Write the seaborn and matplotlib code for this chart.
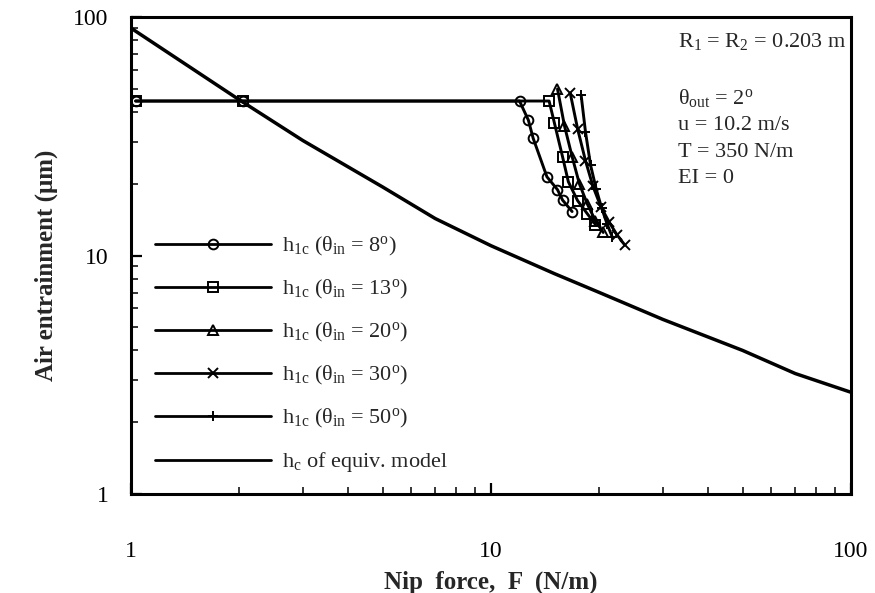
import numpy as np
import pandas as pd
import matplotlib
matplotlib.use("Agg")
import matplotlib.pyplot as plt
import seaborn as sns
from matplotlib.lines import Line2D

sns.set_theme(style="white")
plt.rcParams['font.family'] = ['Liberation Serif', 'DejaVu Serif']
plt.rcParams['mathtext.fontset'] = 'custom'
plt.rcParams['mathtext.rm'] = 'Liberation Serif'
plt.rcParams['mathtext.it'] = 'Liberation Serif:italic'
plt.rcParams['mathtext.bf'] = 'Liberation Serif:bold'

# ---- data ----
F_8 = [1.03, 2.05, 12.0, 12.7, 13.1, 14.3, 15.3, 15.8, 16.8]
h_8 = [44.5, 44.5, 44.5, 37.0, 31.0, 21.4, 18.9, 17.1, 15.3]

F_13 = [1.03, 2.05, 14.5, 15.0, 15.8, 16.4, 17.4, 18.5, 19.5]
h_13 = [44.5, 44.5, 44.5, 36.0, 26.0, 20.4, 17.0, 15.0, 13.5]

F_20 = [15.3, 16.0, 16.8, 17.6, 18.5, 19.5, 20.5]
h_20 = [50.0, 35.0, 26.0, 20.0, 16.5, 14.0, 12.5]

F_30 = [16.6, 17.4, 18.3, 19.2, 20.2, 21.3, 22.4, 23.5]
h_30 = [48.0, 34.0, 25.0, 19.5, 16.0, 13.8, 12.2, 11.1]

F_50 = [17.8, 18.3, 18.9, 19.6, 20.3, 21.0, 21.7]
h_50 = [47.0, 33.0, 24.0, 19.0, 15.8, 13.6, 12.0]

F_eq = [1, 1.5, 2, 3, 5, 7, 10, 15, 20, 30, 50, 70, 100]
h_eq = [90, 60, 45, 30.4, 19.4, 14.3, 11.0, 8.4, 7.0, 5.4, 4.0, 3.2, 2.67]

labels = ["h$_{\\rm 1c}$ (θ$_{\\rm in}$ = 8$^{\\rm o}$)",
          "h$_{\\rm 1c}$ (θ$_{\\rm in}$ = 13$^{\\rm o}$)",
          "h$_{\\rm 1c}$ (θ$_{\\rm in}$ = 20$^{\\rm o}$)",
          "h$_{\\rm 1c}$ (θ$_{\\rm in}$ = 30$^{\\rm o}$)",
          "h$_{\\rm 1c}$ (θ$_{\\rm in}$ = 50$^{\\rm o}$)",
          "h$_{\\rm c}$ of equiv. model"]

series = [(F_8, h_8, 'o'), (F_13, h_13, 's'), (F_20, h_20, '^'),
          (F_30, h_30, 'x'), (F_50, h_50, '+')]

fig = plt.figure(figsize=(8.75, 5.93), dpi=100)
ax = fig.add_axes([0.1497, 0.167, 0.8229, 0.804])

mk = dict(markersize=7, markerfacecolor='none', markeredgecolor='black',
          markeredgewidth=1.4)
for (F, h, m) in series:
    df = pd.DataFrame({'F': F, 'h': h})
    sns.lineplot(data=df, x='F', y='h', ax=ax, color='black', lw=2.1,
                 marker=m, sort=False, estimator=None, **mk)

dfe = pd.DataFrame({'F': F_eq, 'h': h_eq})
sns.lineplot(data=dfe, x='F', y='h', ax=ax, color='black', lw=2.5,
             sort=False, estimator=None)

ax.set_xscale('log')
ax.set_yscale('log')
ax.set_xlim(1, 100)
ax.set_ylim(1, 100)
ax.set_xticks([1, 10, 100])
ax.set_xticklabels(['1', '10', '100'])
ax.set_yticks([1, 10, 100])
ax.set_yticklabels(['1', '10', '100'])
ax.tick_params(which='major', direction='in', length=8, width=1.6,
               labelsize=17, top=False, right=False,
               bottom=True, left=True, colors='black')
ax.tick_params(axis='x', which='major', pad=34)
ax.tick_params(axis='y', which='major', pad=16)
ax.tick_params(which='minor', direction='in', length=5, width=1.3,
               top=False, right=False, bottom=True, left=True)
for s in ax.spines.values():
    s.set_linewidth(2.2)
    s.set_color('black')

ax.set_xlabel('Nip  force,  F  (N/m)', fontsize=18, fontweight='bold')
ax.set_ylabel('Air entrainment (μm)', fontsize=18, fontweight='bold')
ax.xaxis.set_label_coords(0.5, -0.160)
ax.yaxis.set_label_coords(-0.102, 0.48)

leg_handles = []
for (F, h, m) in series:
    leg_handles.append(Line2D([0, 1], [0, 0], color='black', lw=2.0,
                              marker=m, **mk))
leg_handles.append(Line2D([], [], color='black', lw=2.0))
leg = ax.legend(leg_handles, labels, loc='lower left',
                bbox_to_anchor=(0.034, 0.041), frameon=False, fontsize=16,
                handlelength=5.2, numpoints=1, labelspacing=0.9,
                handletextpad=0.5, borderaxespad=0, borderpad=0)

txt_kw = dict(transform=ax.transAxes, fontsize=16, ha='left', va='center')
ax.text(0.760, 0.948, r"R$_1$ = R$_2$ = 0.203 m", **txt_kw)
ax.text(0.760, 0.830, "θ$_{\\rm out}$ = 2$^{\\rm o}$", **txt_kw)
ax.text(0.760, 0.773, "u = 10.2 m/s", **txt_kw)
ax.text(0.760, 0.717, "T = 350 N/m", **txt_kw)
ax.text(0.760, 0.662, "EI = 0", **txt_kw)

fig.savefig('out.png', dpi=100)
